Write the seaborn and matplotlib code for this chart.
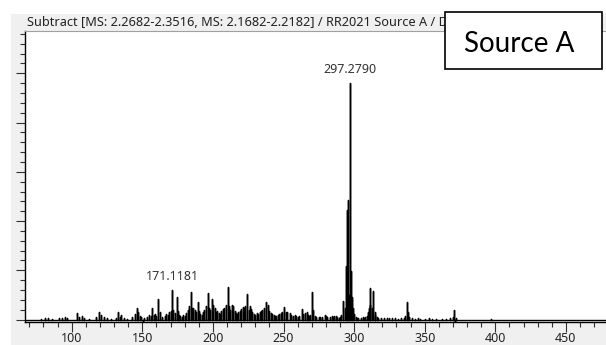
import matplotlib
matplotlib.use("Agg")
import matplotlib.pyplot as plt
import numpy as np
import pandas as pd
import seaborn as sns
from matplotlib.patches import Rectangle
from matplotlib.ticker import MultipleLocator

# ---- data: (m/z, intensity in 10^3 counts) ----
peaks_low = [(78, 2), (81, 4), (83, 3), (86, 2), (91, 4), (93, 3), (95, 6), (97, 4),
             (104, 14), (105, 6), (107, 8), (109, 4), (112, 2), (117, 6), (119, 16),
             (121, 9), (123, 5), (125, 3), (128, 2), (131, 4), (133, 16), (134, 6),
             (135, 10), (137, 4), (139, 2)]
peaks_150 = [(143, 6), (145, 12), (146, 24), (147, 16), (148, 8), (149, 6), (150.6, -6),
             (151, 4), (153, 6), (155, 10), (156, 8), (157, 24), (158, 10), (159, 12),
             (160, 8), (161, 41), (162.6, 16), (164, 6)]
peaks_mid = [(166, 8), (167, 12), (168, 10), (169, 16), (170, 18), (171.1181, 61),
             (172, 20), (173, 14), (174.5, 46), (175.3, 18), (176, 10), (177, 8),
             (178, 6), (179, 10), (180, 8), (181, 14), (182, 20), (183, 28),
             (184.5, 56), (185.3, 24), (186, 24), (187, 20), (188, 16), (189.4, 36),
             (190, 18), (191, 12), (192, 10), (193, 16), (194, 20), (195, 28),
             (196.5, 54), (197.3, 24), (198, 20), (199.3, 41), (200.2, 30),
             (201.5, 24), (202.3, 16), (203, 18), (204, 14), (205, 12), (206, 18),
             (207, 22), (208, 24), (209.3, 30), (210.8, 66), (211.6, 28),
             (212.3, 20), (213.5, 30), (214.5, 28), (215.3, 18), (216, 14),
             (217, 12), (218, 16), (219, 18), (220, 22), (221, 26), (222, 24),
             (223, 28), (224.4, 52), (225.2, 20), (226, 28), (227, 22), (228, 16),
             (229, 12), (230, 10), (231, 14), (232, 12), (233, 16), (234, 18),
             (235, 20), (236, 24), (237.6, 36), (239, 30), (240, 18), (241, 14),
             (242, 12), (243, 10), (244, 8), (245, 8), (246, 10), (247, 12),
             (248, 14), (249, 16), (250.5, 25), (251.5, 16), (252.7, 16),
             (254.6, 14), (255.5, 10), (257, 8), (258, 10), (259, 8), (260, 6)]
peaks_high = [(261, 8), (262.9, 22), (264, 12), (265, 14), (266.4, 16), (267, 10),
              (268, 8), (269, 10), (270.4, 56), (271.2, 20), (272, 8), (273, 6),
              (275, 6), (276, 6), (277, 5), (279.4, 10), (280, 8), (281, 6), (283, 6),
              (284, 8), (285, 6), (286, 8), (287.2, 8), (288, 6), (289, 4), (290, 6),
              (291, 10), (292.4, 37), (293.2, 24), (294, 108), (294.7, 222),
              (295.3, 60), (295.9, 242), (296.5, 50), (297.279, 480), (297.8, 98),
              (298.5, 45), (299.2, 24), (300, 12), (301, 6), (302, 4)]
peaks_tail = [(303, 4), (305, 4), (306, 6), (307, 4), (308, 6), (309, 8), (310, 16),
              (310.5, 24), (311, 30), (311.6, 64), (312.5, 24), (313.6, 58),
              (314.5, 16), (315, 10), (316, 6), (317, 4), (319, 4), (321, 4), (323, 3),
              (325, 4), (327, 3), (329, 3), (331, 2), (333, 4), (335, 4), (336, 8),
              (337.2, 35), (338, 16), (339, 6), (341, 3), (343, 2), (345, 3), (347, 2),
              (350, 2), (353, 3), (355, 2), (358, 2), (362, 2), (365, 2), (368, 3),
              (370, 6), (370.7, 19), (371.5, -5), (372, 4), (396.7, 2)]

labels_mz = [297.279, 171.1181]
labels_text = ["297.2790", "171.1181"]
xtick_values = [100, 150, 200, 250, 300, 350, 400, 450]
title_text = "Subtract [MS: 2.2682-2.3516, MS: 2.1682-2.2182] / RR2021 Source A / D"
box_text = "Source A"

# ---- build stick trace ----
all_peaks = peaks_low + peaks_150 + peaks_mid + peaks_high + peaks_tail
rows = []
for i, (m, h) in enumerate(all_peaks):
    rows += [(i, m, 0.0), (i, m, h), (i, m, 0.0)]
df = pd.DataFrame(rows, columns=["pk", "mz", "intensity"])

sns.set_theme(style="white")
plt.rcParams["font.family"] = ["Noto Sans", "DejaVu Sans"]

W, H = 606, 345
fig = plt.figure(figsize=(W / 100, H / 100), dpi=100)
fig.patch.set_facecolor("white")
fig.patches.append(Rectangle((11 / W, 0), 1 - 11 / W, (H - 14) / H,
                             transform=fig.transFigure, facecolor="#f0f0f0",
                             edgecolor="none", zorder=0))

ax = fig.add_axes([25 / W, (H - 322) / H, 1 - 25 / W, (322 - 31) / H])
ax.set_zorder(1)
ax.set_facecolor("white")

sns.lineplot(data=df, x="mz", y="intensity", units="pk", estimator=None,
             sort=False, color="black", linewidth=1.05, ax=ax, legend=False)
ax.axhline(0, color="black", linewidth=1.0, zorder=3)

ax.set_xlim(66.9, 478.4)
ax.set_ylim(-5, 586)
ax.set_xlabel("")
ax.set_ylabel("")
ax.xaxis.set_major_locator(MultipleLocator(50))
ax.xaxis.set_minor_locator(MultipleLocator(10))
ax.yaxis.set_major_locator(MultipleLocator(100))
ax.yaxis.set_minor_locator(MultipleLocator(20))
ax.set_xticks(xtick_values)
ax.set_xticklabels([str(v) for v in xtick_values])
ax.set_yticklabels([])
ax.tick_params(axis="both", which="both", direction="out", color="#303030",
               width=0.8, bottom=True, left=True, top=False, right=False)
ax.tick_params(axis="x", which="major", length=7.2, pad=0.3, labelsize=9,
               labelcolor="#222222")
ax.tick_params(axis="x", which="minor", length=3.6)
ax.tick_params(axis="y", which="major", length=6.5)
ax.tick_params(axis="y", which="minor", length=3.6)

for side in ["left", "bottom"]:
    ax.spines[side].set_color("black")
    ax.spines[side].set_linewidth(1.0)
ax.spines["top"].set_color("#a0a0a0")
ax.spines["top"].set_linewidth(0.8)
ax.spines["right"].set_visible(False)

lookup = dict(all_peaks)
for m, t in zip(labels_mz, labels_text):
    ax.annotate(t, xy=(m, lookup[m]), xytext=(0, 5), textcoords="offset points",
                ha="center", va="bottom", fontsize=9, color="#333333")

fig.text(27 / W, (H - 22) / H, title_text, ha="left", va="center",
         fontsize=9.2, color="#222222", zorder=2)

fig.patches.append(Rectangle((445 / W, (H - 69) / H), 157 / W, 57 / H,
                             transform=fig.transFigure, facecolor="white",
                             edgecolor="black", linewidth=1.2, zorder=5))
fig.text(519 / W, (H - 51.7) / H, box_text, ha="center", va="baseline",
         fontsize=20, family=["Lato", "DejaVu Sans"], color="black", zorder=6)

fig.savefig("out.png", dpi=100)
